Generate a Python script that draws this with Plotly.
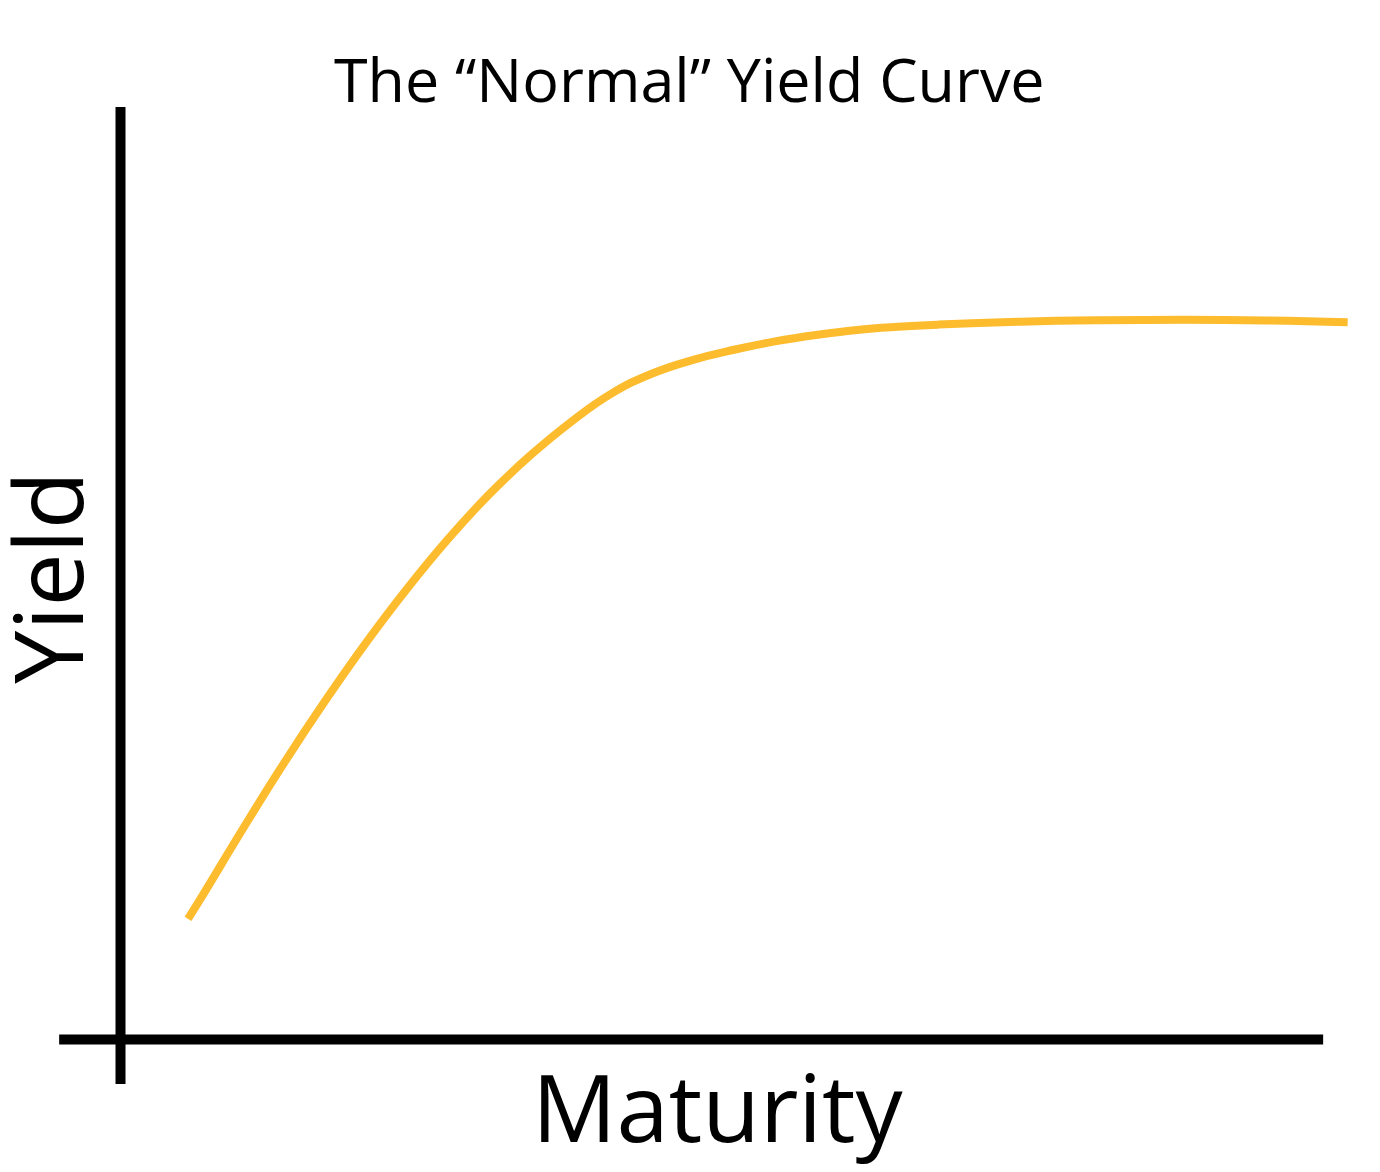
import plotly.graph_objects as go

# yield curve (maturity in years, yield in %)
maturity = [1.65, 2, 3, 4, 5, 6, 7, 8, 9, 10, 11, 12, 13, 14, 15, 16, 17, 18, 19, 20, 22, 24, 26, 28, 30]
yield_pct = [0.84, 1.00, 1.47, 1.925, 2.355, 2.76, 3.135, 3.48, 3.79, 4.06, 4.295, 4.495, 4.635,
             4.73, 4.80, 4.858, 4.903, 4.938, 4.96, 4.975, 4.995, 5.005, 5.008, 5.004, 4.992]

# extent of the hand drawn axis lines
axis_x_extent = [-1.5, 29.4]
axis_y_extent = [-0.31, 6.49]

title_text = "The \u201cNormal\u201d Yield Curve"
x_label = "Maturity"
y_label = "Yield"

CURVE_COLOR = "#FCBC2E"
FONT = "Open Sans"

fig = go.Figure()

# the curve
fig.add_trace(go.Scatter(
    x=maturity,
    y=yield_pct,
    mode="lines",
    line=dict(color=CURVE_COLOR, width=8, shape="spline", smoothing=1.3),
    hoverinfo="skip",
    showlegend=False,
))

# axis lines drawn like the sketch, crossing a bit past the origin
fig.add_shape(type="line", xref="x", yref="y",
              x0=axis_x_extent[0], x1=axis_x_extent[1], y0=0, y1=0,
              line=dict(color="black", width=10))
fig.add_shape(type="line", xref="x", yref="y",
              x0=0, x1=0, y0=axis_y_extent[0], y1=axis_y_extent[1],
              line=dict(color="black", width=10))

# labels
fig.add_annotation(text=title_text, xref="paper", yref="paper", x=0.4993, y=0.9334,
                   xanchor="center", yanchor="middle", showarrow=False,
                   font=dict(family=FONT, size=61, color="black"))
fig.add_annotation(text=x_label, xref="paper", yref="paper", x=0.5205, y=0.0567,
                   xanchor="center", yanchor="middle", showarrow=False,
                   font=dict(family=FONT, size=94, color="black"))
fig.add_annotation(text=y_label, xref="paper", yref="paper", x=0.0335, y=0.5073,
                   xanchor="center", yanchor="middle", showarrow=False, textangle=-90,
                   font=dict(family=FONT, size=95, color="black"))

fig.update_layout(
    width=1380,
    height=1172,
    margin=dict(l=0, r=0, t=0, b=0),
    paper_bgcolor="white",
    plot_bgcolor="white",
    xaxis=dict(range=[-2.946, 30.79], visible=False, fixedrange=True),
    yaxis=dict(range=[-0.922, 7.234], visible=False, fixedrange=True),
    showlegend=False,
)

fig.write_html("out.html", config={"displayModeBar": False},
               post_script="document.body.style.margin='0';document.body.style.overflow='hidden';")
